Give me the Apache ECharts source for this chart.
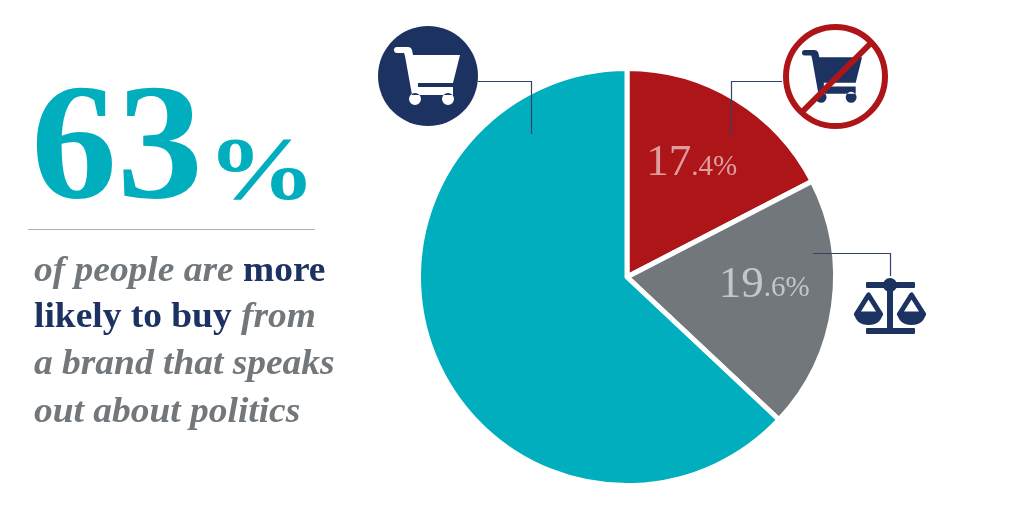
<!DOCTYPE html>
<html>
<head>
<meta charset="utf-8">
<style>html,body{margin:0;padding:0;background:#fff}#main{width:1024px;height:512px}</style>
<script src="https://cdn.jsdelivr.net/npm/echarts@6/dist/echarts.min.js"></script>
</head>
<body>
<div id="main"></div>
<script>
var categories = ['Less likely', 'Neutral', 'More likely'];
var shares = [17.4, 19.6, 63];
var sliceColors = ['#ae1518', '#72777b', '#00aebd'];
var sliceLabels = [['17', '.4%'], ['19', '.6%'], null];
var labelShifts = [[9, -22], [31, -7], [0, 0]];
var textLines = [
    '{g|of people are }{b|more}',
    '{b|likely to buy }{g|from}',
    '{g|a brand that speaks}',
    '{g|out about politics}'
];

var NAVY = '#1c3261', RED = '#ae1518', TEAL = '#00aebd', GREY = '#72777b';
var SERIF = '"Liberation Serif", serif';

// cart outline, same shape used twice (white and navy)
var cartPath = 'M397 47 L408 47 Q411 47 412 50 L413 55 L460 55 L453 83 L418 83 L418 87 L453 87 L453 95 ' +
    'L412 95 L405 56 L404 53 L397 53 Q394 53 394 50 Q394 47 397 47 Z ' +
    'M409 99 A6 6 0 1 0 421 99 A6 6 0 1 0 409 99 Z M442 99 A6 6 0 1 0 454 99 A6 6 0 1 0 442 99 Z';
var bowlPath = 'M854 313 L883 313 Q881 325 868.5 325 Q856 325 854 313 Z M897 313 L926 313 Q924 325 911.5 325 Q899 325 897 313 Z';

echarts.graphic.registerShape('cartIcon', echarts.graphic.extendPath(cartPath, {}));
echarts.graphic.registerShape('bowlIcon', echarts.graphic.extendPath(bowlPath, {}));

function leader(points) {
    return {type: 'polyline', shape: {points: points}, style: {stroke: '#33426a', lineWidth: 1.2, fill: null}, z: 20};
}
function pan(points) {
    return {type: 'polygon', shape: {points: points}, style: {fill: null, stroke: NAVY, lineWidth: 5, lineJoin: 'round'}};
}

var elements = [
    {type: 'text', x: 31, y: 154, scaleY: 0.96, style: {text: '63', fontFamily: SERIF, fontWeight: 'bold', fontSize: 172, fill: TEAL, verticalAlign: 'middle'}},
    {type: 'text', x: 207, y: 175, scaleY: 0.82, style: {text: '%', fontFamily: SERIF, fontWeight: 'bold', fontSize: 109, fill: TEAL, verticalAlign: 'middle'}},
    {type: 'line', shape: {x1: 28, y1: 229.5, x2: 315, y2: 229.5}, style: {stroke: '#b0b0b0', lineWidth: 1}},

    leader([[478, 81.5], [531.5, 81.5], [531.5, 134]]),
    leader([[782, 81.5], [731.5, 81.5], [731.5, 135]]),
    leader([[813, 253.5], [890.5, 253.5], [890.5, 276]]),

    // cart in circle
    {type: 'circle', shape: {cx: 428, cy: 76, r: 50}, style: {fill: NAVY}},
    {type: 'cartIcon', style: {fill: '#fff'}},

    // crossed cart
    {type: 'cartIcon', x: 802 - 394 * 0.91, y: 50 - 47 * 0.91, scaleX: 0.91, scaleY: 0.91, style: {fill: NAVY}},
    {type: 'circle', shape: {cx: 835.5, cy: 76.5, r: 49.5}, style: {fill: null, stroke: RED, lineWidth: 6}},
    {type: 'line', shape: {x1: 802, y1: 112, x2: 872, y2: 42}, style: {stroke: RED, lineWidth: 6}},

    // scales
    {type: 'rect', shape: {x: 866, y: 282, width: 49, height: 6, r: 1}, style: {fill: NAVY}},
    {type: 'circle', shape: {cx: 890, cy: 285, r: 7}, style: {fill: NAVY}},
    {type: 'rect', shape: {x: 887, y: 285, width: 6, height: 45}, style: {fill: NAVY}},
    {type: 'rect', shape: {x: 866, y: 328, width: 49, height: 6, r: 1}, style: {fill: NAVY}},
    pan([[868.5, 295], [856.5, 314], [880.5, 314]]),
    pan([[911.5, 295], [899.5, 314], [923.5, 314]]),
    {type: 'bowlIcon', style: {fill: NAVY}}
];

var lineMiddle = [272, 318, 365, 413];
textLines.forEach(function (line, i) {
    elements.push({
        type: 'text', x: 34, y: lineMiddle[i], scaleX: 1.04,
        style: {
            text: line,
            verticalAlign: 'middle',
            rich: {
                g: {fontFamily: SERIF, fontStyle: 'italic', fontWeight: 'bold', fontSize: 36, fill: GREY},
                b: {fontFamily: SERIF, fontWeight: 'bold', fontSize: 36, fill: NAVY}
            }
        }
    });
});

var pieData = categories.map(function (name, i) {
    var item = {name: name, value: shares[i], itemStyle: {color: sliceColors[i]}};
    if (sliceLabels[i]) {
        item.label = {show: true, formatter: '{a|' + sliceLabels[i][0] + '}{b|' + sliceLabels[i][1] + '}'};
    } else {
        item.label = {show: false};
    }
    return item;
});

var chart = echarts.init(document.getElementById('main'), null, {renderer: 'canvas'});
chart.setOption({
    backgroundColor: '#fff',
    animation: false,
    series: [{
        type: 'pie',
        center: [627, 277],
        radius: [0, 208.5],
        startAngle: 90,
        clockwise: true,
        silent: true,
        itemStyle: {borderColor: '#fff', borderWidth: 5},
        label: {
            position: 'inside',
            rich: {
                a: {fontFamily: SERIF, fontSize: 45, color: 'rgba(255,255,255,0.58)'},
                b: {fontFamily: SERIF, fontSize: 29, color: 'rgba(255,255,255,0.58)', verticalAlign: 'bottom', padding: [0, 0, 4, 0]}
            }
        },
        labelLine: {show: false},
        labelLayout: function (params) {
            var s = labelShifts[params.dataIndex];
            return {dx: s[0], dy: s[1]};
        },
        data: pieData
    }],
    graphic: {elements: elements}
});
</script>
</body>
</html>
